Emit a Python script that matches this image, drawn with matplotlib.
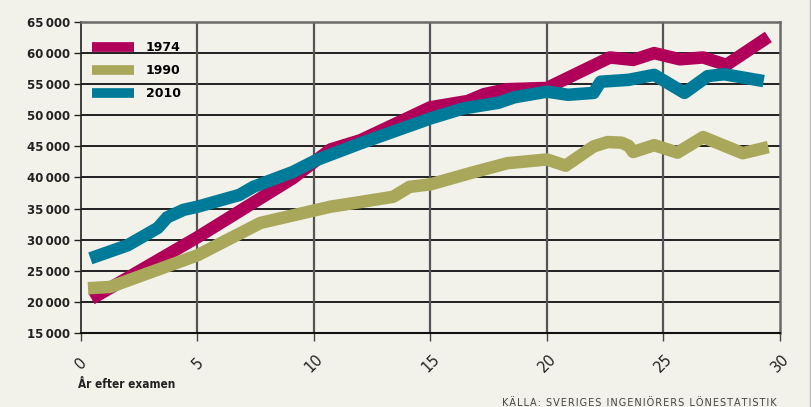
import matplotlib.pyplot as plt
from matplotlib.lines import Line2D

# data (years after exam, monthly salary SEK)
years1974 = [0.45, 5.0, 9.1, 10.7, 12.0, 15.0, 16.6, 17.3, 18.3, 20.0, 20.5, 22.7, 23.7, 24.6, 25.7, 26.7, 27.7, 29.5]
salary1974 = [20500, 30400, 39900, 44500, 46000, 51300, 52300, 53400, 54200, 54400, 55300, 59300, 58900, 60000, 59000, 59300, 58100, 62600]

years1990 = [0.3, 1.25, 5.0, 7.7, 10.7, 12.0, 13.4, 14.1, 15.0, 16.7, 18.3, 20.0, 20.8, 22.0, 22.6, 23.2, 23.5, 23.7, 24.6, 25.6, 26.7, 28.4, 29.5]
salary1990 = [22200, 22400, 27500, 32700, 35300, 36060, 36900, 38500, 38900, 40700, 42300, 42900, 41900, 45000, 45700, 45600, 45100, 44100, 45200, 44000, 46500, 43900, 44900]

years2010 = [0.4, 2.0, 3.3, 3.7, 4.4, 5.0, 6.8, 7.4, 9.1, 10.1, 12.0, 15.0, 16.4, 17.9, 18.6, 20.0, 20.9, 22.0, 22.3, 23.5, 24.6, 25.9, 26.9, 27.6, 29.3]
salary2010 = [27000, 29100, 31900, 33600, 34800, 35300, 37200, 38500, 40900, 42800, 45500, 49500, 51100, 52000, 52900, 53800, 53300, 53600, 55400, 55700, 56500, 53600, 56300, 56600, 55500]

yticks = list(range(15000, 65001, 5000))
ytickLabels = ["{:,}".format(v).replace(",", "\u2009") for v in yticks]
xticks = [0, 5, 10, 15, 20, 25, 30]

bg = "#f2f1ea"
c1974 = "#b0005a"
c1990 = "#a9a85a"
c2010 = "#007a99"

fig = plt.figure(figsize=(8.12, 4.07), dpi=100, facecolor=bg)
ax = fig.add_axes([81 / 812, 1 - 333 / 407, 699 / 812, 311 / 407])
ax.set_facecolor(bg)

lw = 9
ax.plot(years1974, salary1974, color=c1974, lw=lw, solid_capstyle="butt", solid_joinstyle="round", zorder=3)
ax.plot(years1990, salary1990, color=c1990, lw=lw, solid_capstyle="butt", solid_joinstyle="round", zorder=4)
ax.plot(years2010, salary2010, color=c2010, lw=lw, solid_capstyle="butt", solid_joinstyle="round", zorder=5)

ax.set_xlim(0, 30)
ax.set_ylim(15000, 65000)
ax.set_yticks(yticks)
ax.set_yticklabels(ytickLabels, fontweight="bold", fontsize=8.5, color="#222222")
ax.set_xticks(xticks)
ax.set_xticklabels([str(x) for x in xticks], rotation=45, ha="center", va="center", fontsize=10.5, color="#222222")
ax.tick_params(axis="x", length=6, width=1, color="#444444", pad=16)
ax.tick_params(axis="y", length=5, width=1, color="#222222", pad=3)

for y in yticks[1:-1]:
    ax.axhline(y, color="#111111", lw=1.3, zorder=1)
for x in xticks[1:-1]:
    ax.axvline(x, color="#555555", lw=1.6, zorder=1)

for side in ["top", "right", "left"]:
    ax.spines[side].set_color("#6a6a6a")
    ax.spines[side].set_linewidth(1.8)
ax.spines["left"].set_color("#222222")
ax.spines["left"].set_linewidth(1.2)
ax.spines["bottom"].set_color("#111111")
ax.spines["bottom"].set_linewidth(1.5)

handles = [Line2D([0], [0], color=c, lw=7, solid_capstyle="butt") for c in [c1974, c1990, c2010]]
leg = ax.legend(handles, ["1974", "1990", "2010"], loc="upper left", bbox_to_anchor=(0.0, 0.975),
                frameon=False, handlelength=3.3, handletextpad=1.0, labelspacing=0.8,
                prop={"weight": "bold", "size": 9})

fig.text(78 / 812, 1 - 385 / 407, "År efter examen", fontsize=8.5, fontweight="bold",
         fontstretch="condensed", color="#222222", va="center", ha="left")
source = "KÄLLA: SVERIGES INGENIÖRERS LÖNESTATISTIK"
fig.text(777 / 812, 1 - 403 / 407, "\u200a".join(source), fontsize=7, color="#444444", va="center", ha="right")

fig.add_artist(Line2D([810 / 812, 810 / 812], [0, 1], color="#bbbbbb", lw=1))

plt.savefig("out.png", facecolor=bg)
